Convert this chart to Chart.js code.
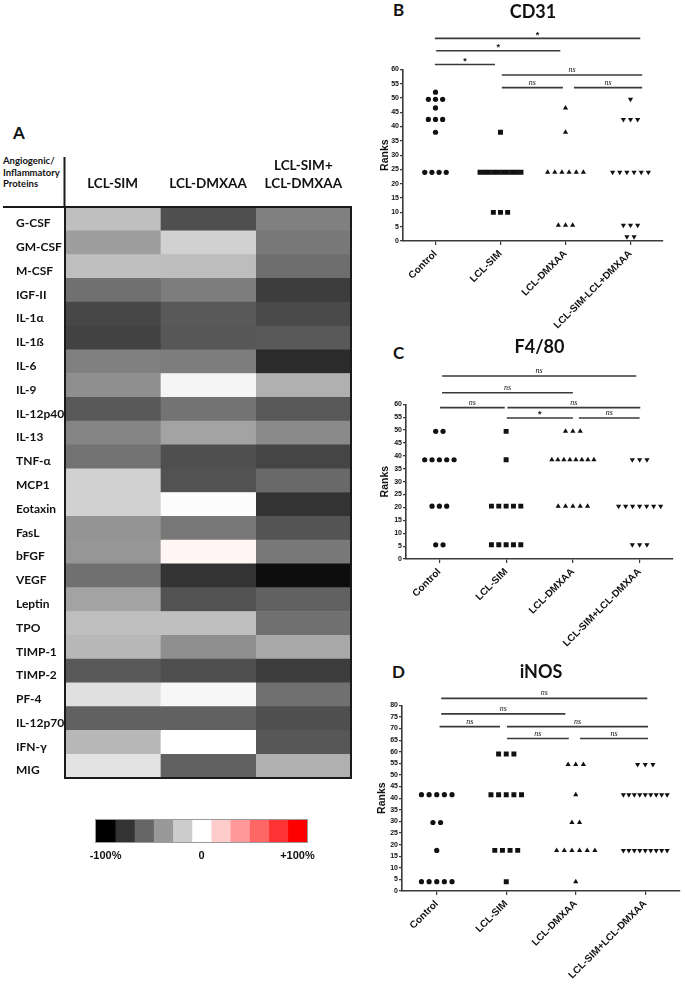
<!DOCTYPE html>
<html><head><meta charset="utf-8">
<script src="https://cdn.jsdelivr.net/npm/chart.js@4.4.0/dist/chart.umd.min.js"></script>
<style>
html,body{margin:0;padding:0;background:#fff;}
body{width:685px;height:985px;position:relative;overflow:hidden;}
canvas{position:absolute;}
.lbl{position:absolute;font-family:Lato,"Liberation Sans",sans-serif;font-weight:bold;color:#111;line-height:1;white-space:nowrap;}
</style></head><body>
<div class="lbl" style="left:13px;top:124px;font-size:17px;">A</div>
<div class="lbl" style="left:3px;top:155px;font-size:9.5px;line-height:11.7px;">Angiogenic/<br>Inflammatory<br>Proteins</div>
<div class="lbl" style="left:393px;top:1px;font-size:17px;">B</div>
<div class="lbl" style="left:393px;top:344px;font-size:17px;">C</div>
<div class="lbl" style="left:392px;top:663px;font-size:17px;">D</div>

<canvas id="heat" width="360" height="640" style="left:0;top:150px"></canvas>
<canvas id="cbar" width="270" height="70" style="left:60px;top:805px"></canvas>
<canvas id="cd31" width="325" height="329" style="left:360px;top:0"></canvas>
<canvas id="f480" width="325" height="317" style="left:360px;top:330px"></canvas>
<canvas id="inos" width="325" height="333" style="left:360px;top:648px"></canvas>

<script>
// ---------- Panel A data (percent change vs control) ----------
const proteins = ['G-CSF','GM-CSF','M-CSF','IGF-II','IL-1α','IL-1ß','IL-6','IL-9','IL-12p40','IL-13','TNF-α','MCP1','Eotaxin','FasL','bFGF','VEGF','Leptin','TPO','TIMP-1','TIMP-2','PF-4','IL-12p70','IFN-γ','MIG'];
const heatColumns = ['LCL-SIM', 'LCL-DMXAA', ['LCL-SIM+', 'LCL-DMXAA']];
const simVals   = [-25,-38,-25,-56,-72,-74,-50,-44,-65,-48,-55,-18,-18,-42,-41,-56,-36,-25,-28,-65,-12,-62,-28,-11];
const dmxaaVals = [-69,-18,-26,-51,-65,-66,-51,-4,-55,-36,-69,-68,-1,-53,4,-80,-68,-25,-44,-69,-3,-62,0,-62];
const comboVals = [-50,-53,-57,-76,-71,-65,-83,-31,-65,-46,-73,-59,-80,-67,-53,-95,-62,-56,-34,-76,-56,-69,-66,-31];
const scaleLevels = [-100,-80,-60,-40,-20,0,20,40,60,80,100];
const scaleTickValues = [-100, 0, 100];
const scaleTickLabels = ['-100%', '0', '+100%'];

// ---------- Panels B-D data (ranks) ----------
const groupLabelsB = ['Control','LCL-SIM','LCL-DMXAA','LCL-SIM-LCL+DMXAA'];
const groupLabels  = ['Control','LCL-SIM','LCL-DMXAA','LCL-SIM+LCL-DMXAA'];

const cd31Control = [52, 49.5,49.5,49.5, 46.5, 42.5,42.5,42.5, 38, 24,24,24,24];
const cd31Sim     = [38, 24,24,24,24,24,24,24,24,24,24, 10,10,10];
const cd31Dmxaa   = [46.5, 38, 24,24,24,24,24,24, 5.5,5.5,5.5];
const cd31Combo   = [49.5, 42.5,42.5,42.5, 24,24,24,24,24,24, 5.5,5.5,5.5, 1.5,1.5];
const cd31Sig = [[-0.01,0.915,61.7,'*'],[0.01,1.92,66.5,'*'],[-0.01,3.15,70.8,'*'],[1.02,3.18,58,'ns'],[1.02,1.96,53.6,'ns'],[2.13,3.18,53.6,'ns']];

const f480Control = [49.5,49.5, 38.5,38.5,38.5,38.5,38.5, 20.5,20.5,20.5, 5.5,5.5];
const f480Sim     = [49.5, 38.5, 20.5,20.5,20.5,20.5,20.5, 5.5,5.5,5.5,5.5,5.5];
const f480Dmxaa   = [49.5,49.5,49.5, 38.5,38.5,38.5,38.5,38.5,38.5,38.5,38.5, 20.5,20.5,20.5,20.5,20.5];
const f480Combo   = [38.5,38.5,38.5, 20.5,20.5,20.5,20.5,20.5,20.5,20.5, 5.5,5.5,5.5];
const f480Sig = [[0.04,2.95,71,'ns'],[0.04,2.0,64.5,'ns'],[0.01,0.98,58.7,'ns'],[1.02,3.01,58.7,'ns'],[1.01,2.0,54.7,'*'],[2.09,3.0,54.7,'ns']];

const inosControl = [41.5,41.5,41.5,41.5,41.5, 29.5,29.5, 17.5, 4,4,4,4,4];
const inosSim     = [59,59,59, 41.5,41.5,41.5,41.5,41.5, 17.5,17.5,17.5,17.5, 4];
const inosDmxaa   = [54.5,54.5,54.5, 41.5, 29.5,29.5, 17.5,17.5,17.5,17.5,17.5,17.5, 4];
const inosCombo   = [54.5,54.5,54.5, 41.5,41.5,41.5,41.5,41.5,41.5,41.5,41.5,41.5, 17.5,17.5,17.5,17.5,17.5,17.5,17.5,17.5,17.5];
const inosSig = [[0.065,3.03,83,'ns'],[0.065,1.85,76.3,'ns'],[0.04,0.91,70.8,'ns'],[1.01,3.04,70.8,'ns'],[1.01,1.9,65.7,'ns'],[2.06,3.04,65.7,'ns']];

// ---------- helpers ----------
function cellColor(v){
  if (v <= 0){ const g = Math.round(255*(1+v/100)); return `rgb(${g},${g},${g})`; }
  const c = Math.round(255*(1-v/100)); return `rgb(255,${c},${c})`;
}
const INK = '#111';
const AXIS = '#3a3a3a';

// ---------- Panel A heatmap ----------
const frame = {
  id:'frame',
  afterDraw(chart){
    const {ctx, chartArea:a} = chart;
    ctx.save();
    ctx.strokeStyle = '#1a1a1a'; ctx.lineWidth = 2;
    ctx.strokeRect(a.left, a.top, a.right-a.left, a.bottom-a.top);
    ctx.beginPath();
    ctx.moveTo(3, a.top); ctx.lineTo(a.left, a.top);
    ctx.moveTo(a.left-0.5, a.top); ctx.lineTo(a.left-0.5, a.top-50);
    ctx.stroke();
    ctx.restore();
  }
};
const heatSeries = [simVals, dmxaaVals, comboVals];
new Chart(document.getElementById('heat'), {
  type:'bar',
  data:{
    labels: proteins,
    datasets: heatSeries.map((vals, j) => ({
      label: String(heatColumns[j]),
      data: vals.map(() => 1),
      backgroundColor: vals.map(cellColor),
      borderWidth: 0, barPercentage: 1, categoryPercentage: 1
    }))
  },
  options:{
    indexAxis:'y', responsive:false, animation:false, events:[],
    layout:{padding:{left:16, right:9, top:0, bottom:12}},
    plugins:{legend:{display:false}, tooltip:{enabled:false}},
    scales:{
      x:{position:'top', stacked:true, min:0, max:3,
         afterBuildTicks:s=>{ s.ticks = [0.5,1.5,2.5].map(v=>({value:v})); },
         afterFit:s=>{ s.height = 57; },
         grid:{display:false, drawTicks:false}, border:{display:false},
         ticks:{autoSkip:false, maxRotation:0, minRotation:0, padding:15, color:INK,
                font:{family:'Lato', size:13.5, weight:'bold', lineHeight:1.3},
                callback:v=>heatColumns[Math.floor(v)]}},
      y:{stacked:true,
         afterFit:s=>{ s.width = 49; },
         grid:{display:false, drawTicks:false}, border:{display:false},
         ticks:{crossAlign:'far', padding:0, labelOffset:4.5, autoSkip:false, color:INK,
                font:{family:'Lato', size:12, weight:'bold'}}}
    }
  },
  plugins:[frame]
});

// ---------- colour scale ----------
const cbFrame = {
  id:'cbFrame',
  afterDraw(chart){
    const {ctx, chartArea:a} = chart;
    ctx.save(); ctx.strokeStyle='#9a9a9a'; ctx.lineWidth=1;
    ctx.strokeRect(a.left-0.5, a.top-0.5, a.right-a.left+1, a.bottom-a.top+1);
    ctx.restore();
  }
};
new Chart(document.getElementById('cbar'), {
  type:'bar',
  data:{labels:[''], datasets: scaleLevels.map(v => ({
    data:[[v-10, v+10]], backgroundColor: cellColor(v), borderWidth:0,
    barPercentage:1, categoryPercentage:1, grouped:false }))},
  options:{
    indexAxis:'y', responsive:false, animation:false, events:[],
    layout:{padding:{left:36, right:23, top:15, bottom:0}},
    plugins:{legend:{display:false}, tooltip:{enabled:false}},
    scales:{
      x:{min:-110, max:110,
         afterBuildTicks:s=>{ s.ticks = scaleTickValues.map(v=>({value:v})); },
         afterFit:s=>{ s.height = 33; },
         grid:{display:false, drawTicks:false}, border:{display:false},
         ticks:{padding:7, autoSkip:false, maxRotation:0, color:INK,
                font:{family:'Liberation Sans', size:11, weight:'bold'},
                callback:(v)=>scaleTickLabels[scaleTickValues.indexOf(v)]}},
      y:{display:false}
    }
  },
  plugins:[cbFrame]
});

// ---------- rank scatter panels ----------
function spread(values, idx){
  const step = 0.11, maxSpan = 0.63;
  const counts = new Map();
  values.forEach(v => counts.set(v, (counts.get(v)||0)+1));
  const pts = [];
  counts.forEach((n, v) => {
    const s = n > 1 ? Math.min(step, maxSpan/(n-1)) : 0;
    for (let i=0;i<n;i++) pts.push({x: idx + (i-(n-1)/2)*s, y: v});
  });
  return pts;
}
const sigPlugin = {
  id:'sig',
  afterDraw(chart, args, opts){
    const {ctx, scales:{x, y}} = chart;
    ctx.save();
    ctx.strokeStyle = AXIS; ctx.lineWidth = 1.6; ctx.fillStyle = INK;
    ctx.textAlign = 'center'; ctx.textBaseline = 'middle';
    opts.items.forEach(([a, b, v, label]) => {
      const py = y.getPixelForValue(v), xa = x.getPixelForValue(a), xb = x.getPixelForValue(b);
      ctx.beginPath(); ctx.moveTo(xa, py); ctx.lineTo(xb, py); ctx.stroke();
      if (label === 'ns'){ ctx.font = 'italic 8px "Liberation Serif"'; ctx.fillText(label, (xa+xb)/2, py-5); }
      else { ctx.font = 'bold 9px "Liberation Sans"'; ctx.fillText(label, (xa+xb)/2, py-3); }
    });
    ctx.restore();
  }
};
const shapes = ['circle','rect','triangle','triangle'];
const rotations = [0, 0, 0, 180];
const radii = [2.6, 3.5, 3, 3];

function rankChart(id, cfg){
  return new Chart(document.getElementById(id), {
    type:'scatter',
    data:{datasets: cfg.groups.map((vals, i) => ({
      data: spread(vals, i), pointStyle: shapes[i], rotation: rotations[i],
      pointRadius: radii[i], backgroundColor: INK, borderColor: INK, borderWidth: 0
    }))},
    options:{
      responsive:false, animation:false, events:[],
      layout:{padding:{left:0, right:cfg.padRight, top:0, bottom:0}},
      plugins:{
        legend:{display:false}, tooltip:{enabled:false},
        title:{display:true, text:cfg.title, fullSize:false, color:INK,
               font:{family:'Lato', size:18, weight:'bold', lineHeight:1.2},
               padding:{top:cfg.tTop, bottom:cfg.tBottom}},
        sig:{items: cfg.sig}
      },
      scales:{
        x:{type:'linear', min:-0.5, max:3.5,
           afterBuildTicks:s=>{ s.ticks = [0,1,2,3].map(v=>({value:v})); },
           afterFit:s=>{ s.height = cfg.xH; },
           ticks:{autoSkip:false, minRotation:45, maxRotation:45, padding:3, color:INK,
                  font:{family:'Liberation Sans', size:10, weight:'bold'},
                  callback:v=>cfg.labels[Math.round(v)]},
           grid:{display:true, drawOnChartArea:false, drawTicks:true, tickLength:4, color:AXIS, lineWidth:1.2},
           border:{display:true, color:AXIS, width:1.6}},
        y:{min:0, max:cfg.yMax,
           afterFit:s=>{ s.width = cfg.yW; },
           ticks:{stepSize:5, autoSkip:false, padding:1, color:INK,
                  font:{family:'Liberation Sans', size:7, weight:'bold'}},
           grid:{display:true, drawOnChartArea:false, drawTicks:true, tickLength:3, color:AXIS, lineWidth:1.2},
           border:{display:true, color:AXIS, width:1.6},
           title:{display:true, text:'Ranks', color:INK,
                  font:{family:'Liberation Sans', size:10.5, weight:'bold'},
                  padding:{top:cfg.rTop, bottom:0}}}
      }
    },
    plugins:[sigPlugin]
  });
}

rankChart('cd31', {title:'CD31', groups:[cd31Control, cd31Sim, cd31Dmxaa, cd31Combo], labels:groupLabelsB,
  sig:cd31Sig, yMax:60, yW:43, padRight:22, xH:88, tTop:1.2, tBottom:46.5, rTop:18.7});
rankChart('f480', {title:'F4/80', groups:[f480Control, f480Sim, f480Dmxaa, f480Combo], labels:groupLabels,
  sig:f480Sig, yMax:60, yW:46, padRight:12, xH:88, tTop:6.2, tBottom:46.5, rTop:19.2});
rankChart('inos', {title:'iNOS', groups:[inosControl, inosSim, inosDmxaa, inosCombo], labels:groupLabels,
  sig:inosSig, yMax:80, yW:42, padRight:5, xH:90, tTop:13.2, tBottom:22.5, rTop:16.2});
</script>
</body></html>
